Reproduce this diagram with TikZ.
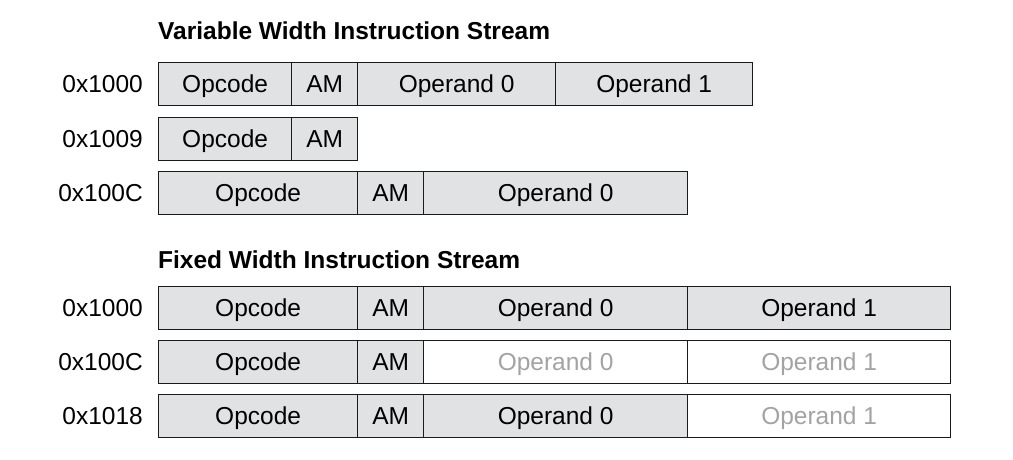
\documentclass[tikz,border=0pt]{standalone}
\usepackage{fontspec}
\setmainfont{Liberation Sans}
\definecolor{cellfill}{HTML}{E1E2E4}
\definecolor{ghost}{HTML}{A3A3A3}
\definecolor{edge}{HTML}{1A1A1A}
\begin{document}
\begin{tikzpicture}[x=1pt,y=-1pt,
  txt/.style={font=\fontsize{24.5}{28}\selectfont,text height=17.5pt,text depth=0pt,inner sep=0pt},
  cell/.style={txt,draw=edge,line width=1.3pt,fill=cellfill,anchor=north west,minimum height=43pt},
  emptycell/.style={cell,fill=white,text=ghost},
  addr/.style={txt,anchor=east},
  heading/.style={txt,anchor=west,font=\fontsize{24.5}{28}\selectfont\bfseries}]
\useasboundingbox (0,0) rectangle (1013,459);
% variable width stream
\node[heading] (t1) at (158,31) {Variable Width Instruction Stream};
\node[addr] (a1) at (143,83.5) {0x1000};
\node[cell,minimum width=133pt] (v1op) at (158,62) {Opcode};
\node[cell,minimum width=66pt] (v1am) at (291,62) {AM};
\node[cell,minimum width=198pt] (v1o0) at (357,62) {Operand 0};
\node[cell,minimum width=197pt] (v1o1) at (555,62) {Operand 1};
\node[addr] (a2) at (143,138.5) {0x1009};
\node[cell,minimum width=133pt] (v2op) at (158,117) {Opcode};
\node[cell,minimum width=66pt] (v2am) at (291,117) {AM};
\node[addr] (a3) at (143,192.5) {0x100C};
\node[cell,minimum width=199pt] (v3op) at (158,171) {Opcode};
\node[cell,minimum width=66pt] (v3am) at (357,171) {AM};
\node[cell,minimum width=264pt] (v3o0) at (423,171) {Operand 0};
% fixed width stream
\node[heading] (t2) at (158,260) {Fixed Width Instruction Stream};
\node[addr] (b1) at (143,307.5) {0x1000};
\node[cell,minimum width=199pt] (f1op) at (158,286) {Opcode};
\node[cell,minimum width=66pt] (f1am) at (357,286) {AM};
\node[cell,minimum width=264pt] (f1o0) at (423,286) {Operand 0};
\node[cell,minimum width=263pt] (f1o1) at (687,286) {Operand 1};
\node[addr] (b2) at (143,361.5) {0x100C};
\node[cell,minimum width=199pt] (f2op) at (158,340) {Opcode};
\node[cell,minimum width=66pt] (f2am) at (357,340) {AM};
\node[emptycell,minimum width=264pt] (f2o0) at (423,340) {Operand 0};
\node[emptycell,minimum width=263pt] (f2o1) at (687,340) {Operand 1};
\node[addr] (b3) at (143,415.5) {0x1018};
\node[cell,minimum width=199pt] (f3op) at (158,394) {Opcode};
\node[cell,minimum width=66pt] (f3am) at (357,394) {AM};
\node[cell,minimum width=264pt] (f3o0) at (423,394) {Operand 0};
\node[emptycell,minimum width=263pt] (f3o1) at (687,394) {Operand 1};
\end{tikzpicture}
\end{document}
